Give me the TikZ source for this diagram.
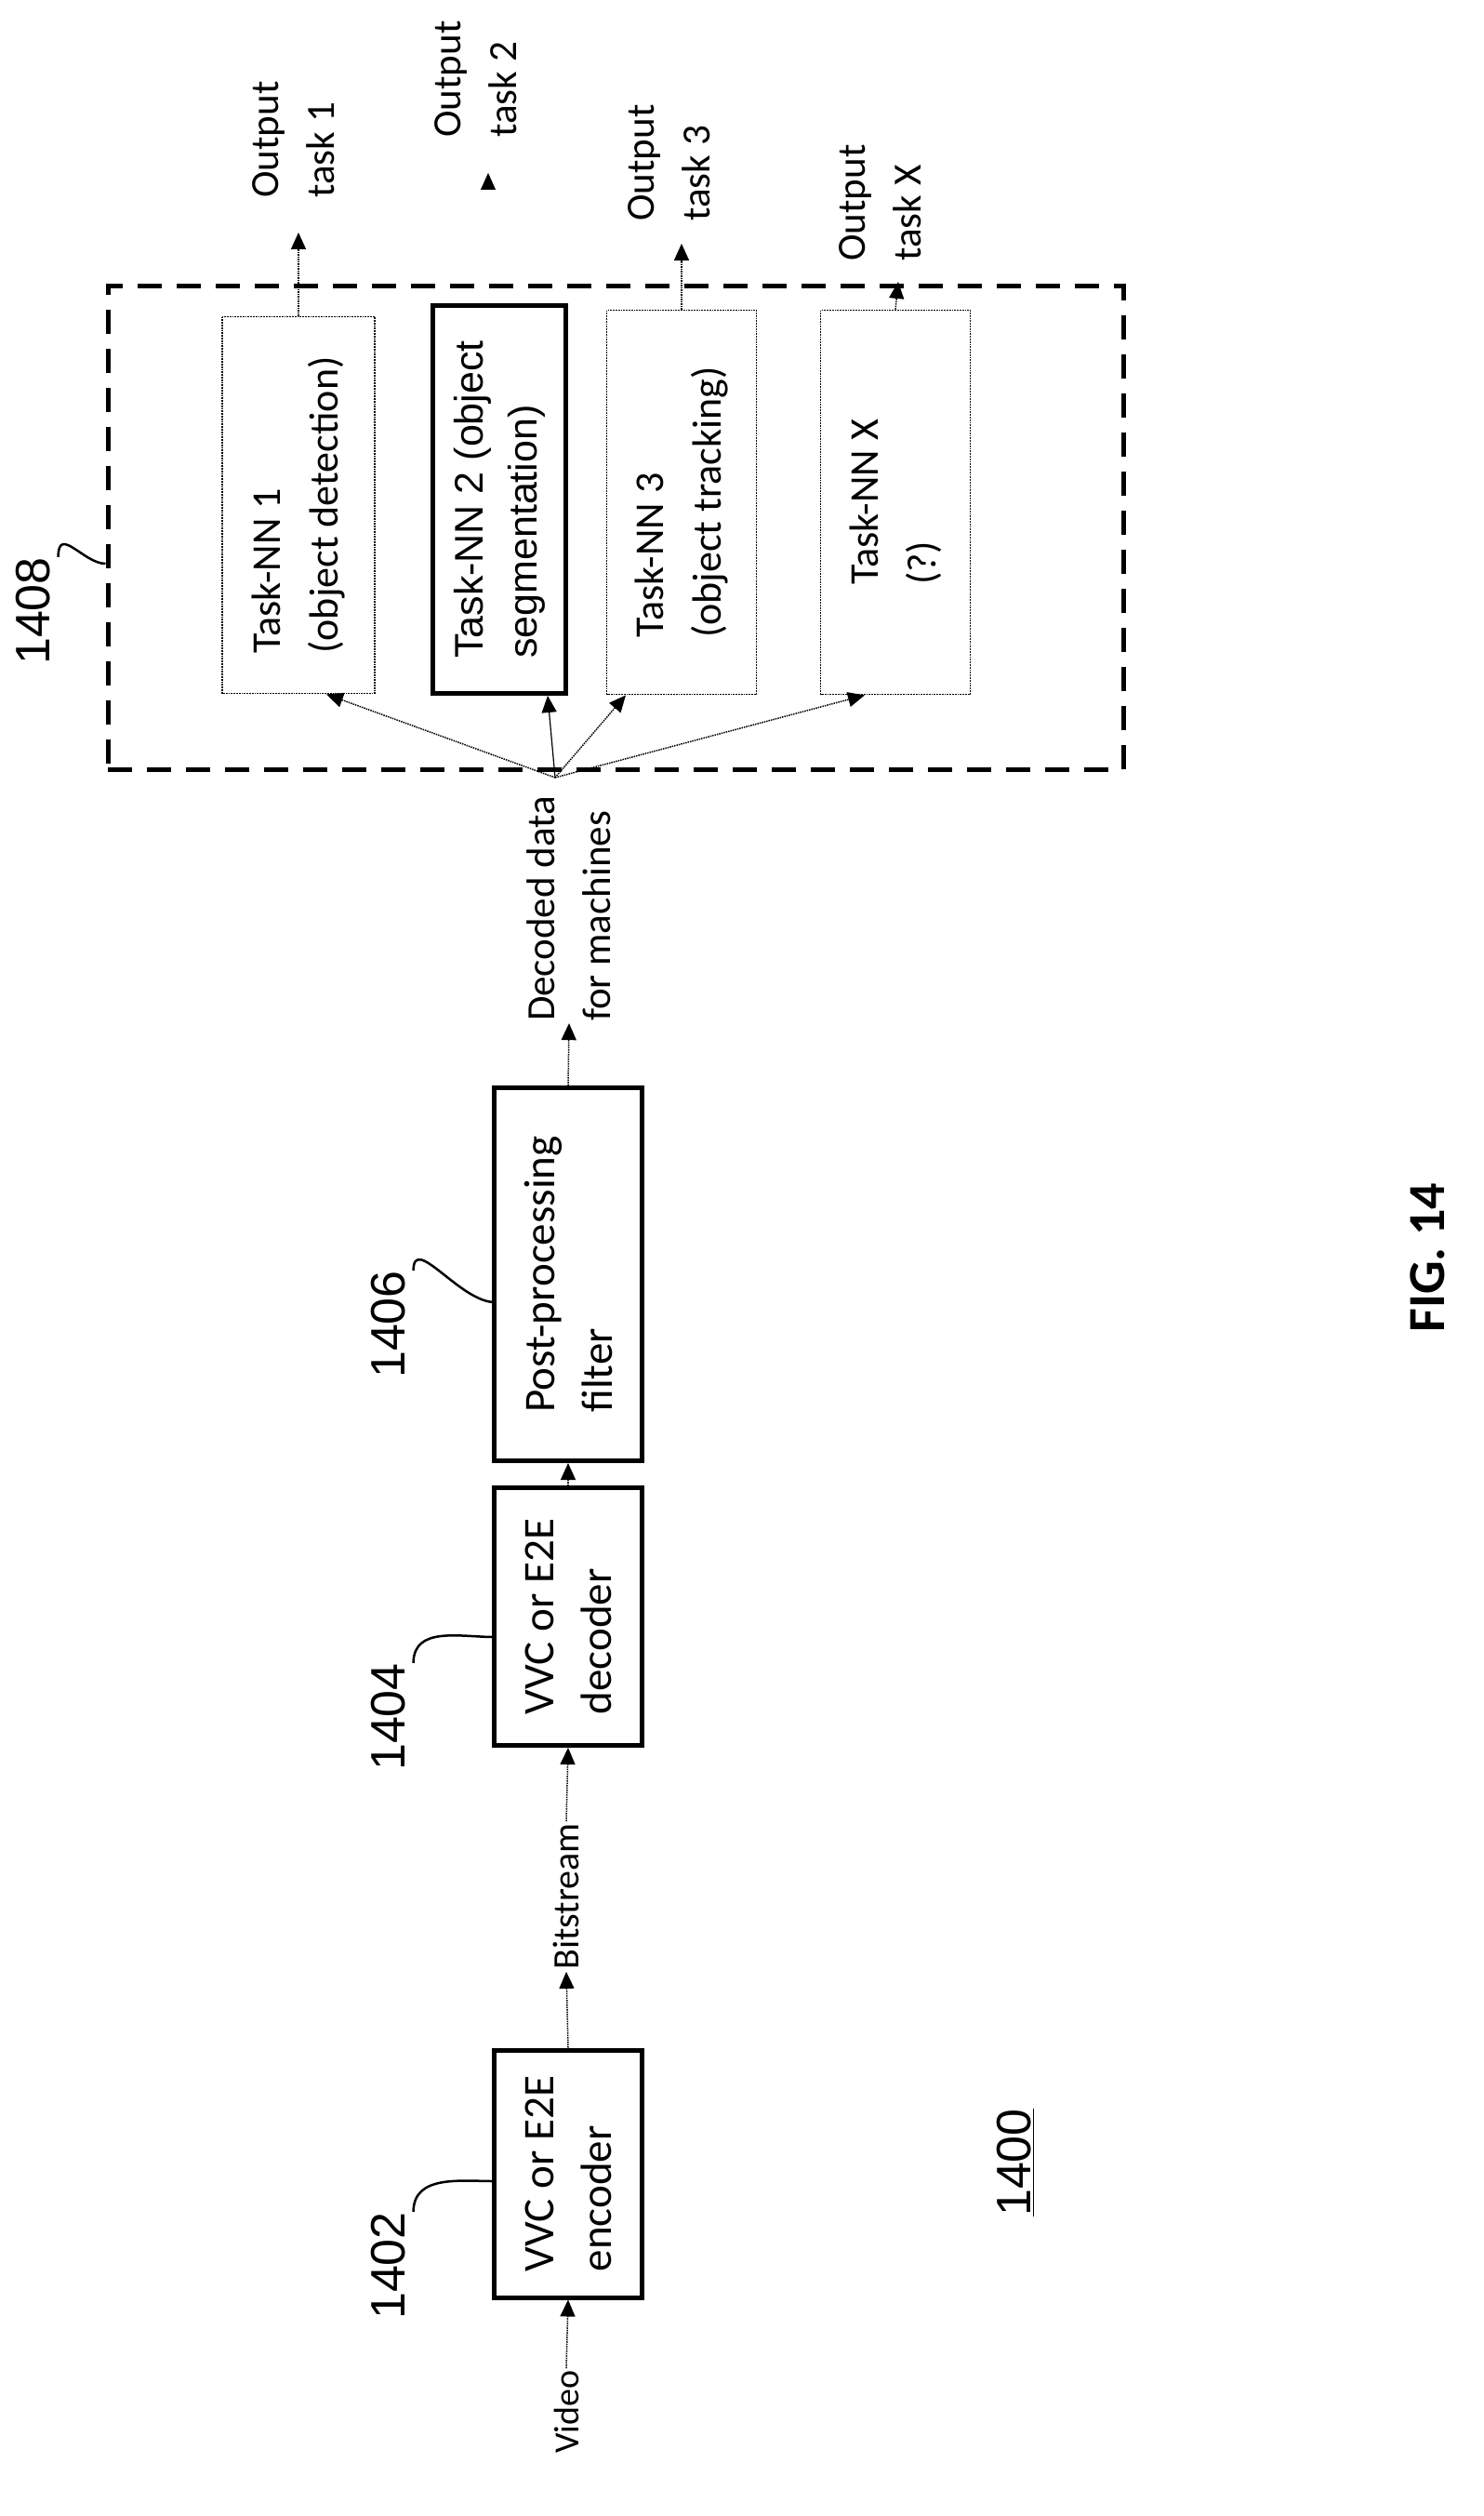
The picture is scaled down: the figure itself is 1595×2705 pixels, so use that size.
\documentclass[tikz,border=0pt]{standalone}
\usepackage{fontspec}
\setmainfont{Carlito}
\newfontfamily\arialf{Liberation Sans}
\usetikzlibrary{arrows.meta}
\begin{document}
\begin{tikzpicture}[x=1pt,y=-1pt,
  thickbox/.style={draw,line width=5pt,rotate=90,minimum height=159pt,inner sep=0pt,align=left,font=\fontsize{47}{62}\selectfont},
  taskbox/.style={draw,line width=1.8pt,densely dotted,rotate=90,inner sep=0pt,align=left,font=\fontsize{44}{62}\selectfont},
  lbl/.style={rotate=90,align=left,inner sep=2pt,font=\fontsize{43}{60}\selectfont},
  refn/.style={rotate=90,inner sep=0pt,font=\arialf\fontsize{52}{56}\selectfont},
  arr/.style={densely dotted,line width=1.5pt,-{Triangle[length=18pt,width=16pt]},shorten >=0pt}]
\useasboundingbox (0,0) rectangle (1595,2705);
\node[thickbox,minimum width=266pt] (enc) at (611,2337) {VVC or E2E\\encoder};
\node[thickbox,minimum width=277pt] (dec) at (611,1738) {VVC or E2E\\decoder};
\node[thickbox,minimum width=401pt] (post) at (611,1370) {Post-processing\\filter};
\node[draw,line width=5pt,dash pattern=on 26pt off 16pt,minimum width=1092pt,minimum height=520pt,inner sep=0pt] (grp) at (662,567) {};
\node[taskbox,minimum width=405pt,minimum height=164pt] (t1) at (321,543) {Task-NN 1\\(object detection)};
\node[draw,line width=5pt,rotate=90,inner sep=0pt,align=left,minimum width=417pt,minimum height=143pt,font=\arialf\fontsize{43}{58}\selectfont] (t2) at (537,537) {Task-NN 2 (object\\segmentation)};
\node[taskbox,minimum width=413pt,minimum height=161pt] (t3) at (733,540) {Task-NN 3\\(object tracking)};
\node[taskbox,minimum width=413pt,minimum height=161pt] (tx) at (963,540) {Task-NN X\\(?)};
\node[lbl,font=\fontsize{38}{56}\selectfont] (video) at (609,2593) {Video};
\node[lbl,font=\fontsize{40}{56}\selectfont] (bits) at (609,2039) {Bitstream};
\node[lbl] (dd) at (612,977) {Decoded data\\for machines};
\node[lbl] (o1) at (316,150) {Output\\task 1};
\node[lbl] (o2) at (512,85) {Output\\task 2};
\node[lbl] (o3) at (720,175) {Output\\task 3};
\node[lbl] (ox) at (947,218) {Output\\task X};
\coordinate (o2h) at (525,200);
\coordinate (o2t) at (525,186);
\draw[arr] (video.east) -- (enc.west);
\draw[arr] (enc.east) -- (bits.west);
\draw[arr] (bits.east) -- (dec.west);
\draw[arr] (dec.east) -- (post.west);
\draw[arr] (post.east) -- (dd.west);
\coordinate (fan) at (597,836);
\draw[arr] (fan) -- ([xshift=30pt]t1.west);
\draw[arr,solid,line width=1.2pt] (fan) -- ([xshift=52pt]t2.west);
\draw[arr] (fan) -- ([xshift=-60pt]t3.west);
\draw[arr] (fan) -- ([xshift=-33pt]tx.west);
\draw[arr] (t1.east) -- (t1.east |- 0,250);
\draw[-{Triangle[length=18pt,width=16pt]}] (o2h) -- (o2t);
\draw[arr] (t3.east) -- (733,262);
\draw[arr] (tx.east) -- (966,303);
\node[refn] (r1402) at (418,2436) {1402};
\node[refn] (r1404) at (418,1846) {1404};
\node[refn] (r1406) at (418,1424) {1406};
\node[refn] (r1408) at (36,657) {1408};
\draw[line width=2.5pt] ([xshift=8pt]r1402.south east) .. controls ([xshift=8pt,yshift=40pt]r1402.south east) and (495,2345) .. (532,2345);
\draw[line width=2.5pt] ([xshift=8pt]r1404.south east) .. controls ([xshift=8pt,yshift=40pt]r1404.south east) and (495,1760) .. (532,1760);
\draw[line width=2.5pt] ([xshift=8pt]r1406.south east) .. controls ([xshift=8pt,yshift=40pt]r1406.south east) and (495,1400) .. (532,1400);
\draw[line width=2.5pt] ([xshift=8pt]r1408.south east) .. controls ([xshift=8pt,yshift=35pt]r1408.south east) and (90,606) .. (grp.west |- 121,606);
\node[refn] (r1400) at (1092,2325) {\underline{1400}};
\node[rotate=90,inner sep=0pt,font=\bfseries\fontsize{56}{60}\selectfont] (fig) at (1535,1352) {FIG. 14};
\end{tikzpicture}
\end{document}
